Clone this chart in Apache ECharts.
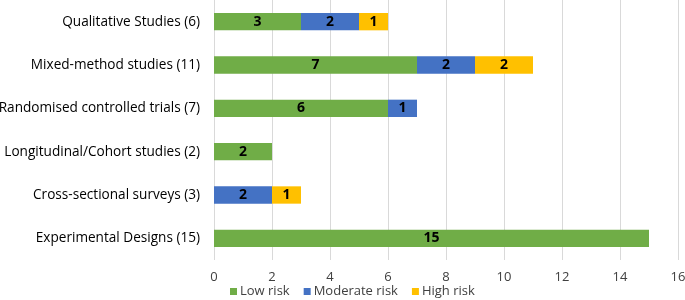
<!DOCTYPE html>
<html>
<head>
<meta charset="utf-8">
<script src="https://cdn.jsdelivr.net/npm/echarts@6/dist/echarts.min.js"></script>
<style>
  html, body { margin: 0; padding: 0; background: #fff; }
  #chart { width: 685px; height: 300px; }
</style>
</head>
<body>
<div id="chart"></div>
<script>
  // categories top to bottom
  var categories = [
    'Qualitative Studies (6)',
    'Mixed-method studies (11)',
    'Randomised controlled trials (7)',
    'Longitudinal/Cohort studies (2)',
    'Cross-sectional surveys (3)',
    'Experimental Designs (15)'
  ];
  var lowRisk = [3, 7, 6, 2, 0, 15];
  var moderateRisk = [2, 2, 1, 0, 2, 0];
  var highRisk = [1, 2, 0, 0, 1, 0];
  var xTicks = [0, 2, 4, 6, 8, 10, 12, 14, 16];

  var font = '"Open Sans", "Liberation Sans", sans-serif';

  var mkSeries = function (name, data, color) {
    return {
      name: name,
      type: 'bar',
      stack: 'risk',
      data: data,
      barCategoryGap: '60%',
      itemStyle: { color: color },
      label: {
        show: true,
        position: 'inside',
        color: '#000',
        fontWeight: 'bold',
        fontSize: 14,
        fontFamily: font,
        formatter: function (p) { return p.value ? String(p.value) : ''; }
      }
    };
  };

  var chart = echarts.init(document.getElementById('chart'));
  chart.setOption({
    animation: false,
    grid: { left: 214, right: 7, top: 0, bottom: 40, containLabel: false, outerBoundsMode: 'none' },
    legend: {
      top: 285,
      left: 225,
      padding: [0, 5],
      itemWidth: 7,
      itemHeight: 7,
      itemGap: 14,
      icon: 'rect',
      textStyle: { fontSize: 13, color: '#404040', fontFamily: font, padding: [0, 0, 0, -2] },
      data: ['Low risk', 'Moderate risk', 'High risk']
    },
    xAxis: {
      type: 'value',
      min: xTicks[0],
      max: xTicks[xTicks.length - 1],
      interval: 2,
      axisLine: { show: false },
      axisTick: { show: false },
      axisLabel: { color: '#404040', fontSize: 13, margin: 11, fontFamily: font },
      splitLine: { show: true, lineStyle: { color: '#d9d9d9', width: 1 } }
    },
    yAxis: {
      type: 'category',
      inverse: true,
      data: categories,
      axisLine: { show: false },
      axisTick: { show: false },
      axisLabel: { color: '#000', fontSize: 13.6, margin: 14, fontFamily: font }
    },
    series: [
      mkSeries('Low risk', lowRisk, '#70AD47'),
      mkSeries('Moderate risk', moderateRisk, '#4472C4'),
      mkSeries('High risk', highRisk, '#FFC000')
    ]
  });
</script>
</body>
</html>
